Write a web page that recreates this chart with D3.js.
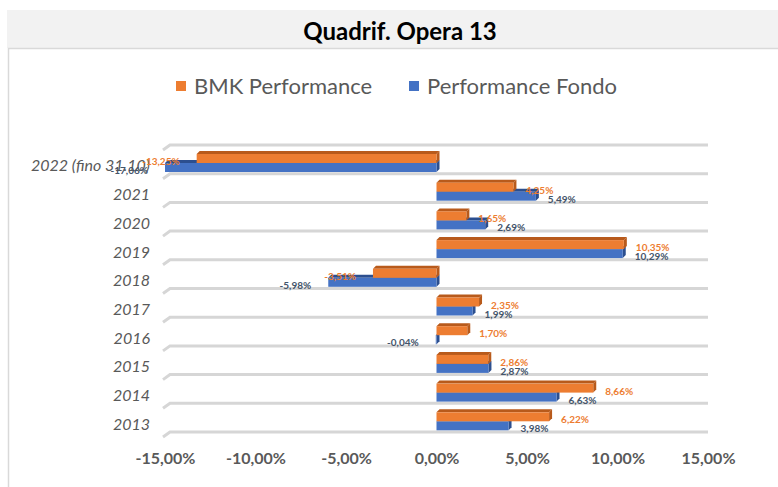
<!DOCTYPE html>
<html>
<head>
<meta charset="utf-8">
<script src="https://cdn.jsdelivr.net/npm/d3@7"></script>
<style>
  body { margin: 0; background: #fff; }
  svg { font-family: Lato, "Open Sans", sans-serif; }
</style>
</head>
<body>
<svg id="chart" width="778" height="487"></svg>
<script>
// dati
const years = ['2022 (fino 31.10)', '2021', '2020', '2019', '2018', '2017', '2016', '2015', '2014', '2013'];
const bmk = [-13.25, 4.25, 1.65, 10.35, -3.51, 2.35, 1.70, 2.86, 8.66, 6.22];
const fondo = [-17.06, 5.49, 2.69, 10.29, -5.98, 1.99, -0.04, 2.87, 6.63, 3.98];
const ticks = [-15, -10, -5, 0, 5, 10, 15];

const orange = '#ed7d31', orangeDark = '#b85a1b';
const blue = '#4472c4', blueDark = '#2c4f8f';
const grey = '#595959';

const it = d3.formatLocale({decimal: ',', thousands: '.', grouping: [3], currency: ['', '€'], minus: '-'});
const fmt = it.format('.2f');

const svg = d3.select('#chart');

// titolo e cornice
svg.append('rect').attr('x', 7).attr('y', 10).attr('width', 771).attr('height', 38).attr('fill', '#f2f2f2');
svg.append('text').attr('x', 400).attr('y', 40).attr('text-anchor', 'middle')
  .attr('font-size', 24).attr('font-weight', 'bold').attr('fill', '#000').text('Quadrif. Opera 13');
svg.append('path').attr('d', 'M8.5,487 V48.5 H778').attr('fill', 'none').attr('stroke', '#d9d9d9').attr('stroke-width', 1.5);

// legenda
const legend = [{name: 'BMK Performance', c: orange, x: 176}, {name: 'Performance Fondo', c: blue, x: 409}];
const lg = svg.selectAll('.leg').data(legend).enter().append('g').attr('class', 'leg')
  .attr('transform', d => `translate(${d.x},81)`);
lg.append('rect').attr('width', 10).attr('height', 10).attr('fill', d => d.c);
lg.append('text').attr('x', 18).attr('y', 13).attr('font-size', 22).attr('fill', grey).text(d => d.name);

const xScale = d3.scaleLinear().domain([-15, 15]).range([165, 708]);
const yScale = d3.scaleBand().domain(years).range([145, 432]);
const bw = yScale.bandwidth();

// griglia 3D (pavimento)
const lines = years.map(d => yScale(d)).concat([yScale.range()[1]]);
svg.selectAll('.grid').data(lines).enter().append('path').attr('class', 'grid')
  .attr('d', d => `M163,${d + 5} L170,${d} H708`)
  .attr('fill', 'none').attr('stroke', '#d6d6d6').attr('stroke-width', 3);

const dep = 3;
function bar3d(g, v, top, h, c, dark) {
  const a = xScale(Math.max(Math.min(v, 0), -15)), b = xScale(Math.max(v, 0));
  g.append('path').attr('d', `M${a},${top} L${a + dep},${top - dep} H${b + dep} L${b},${top} Z`).attr('fill', dark);
  g.append('path').attr('d', `M${b},${top} L${b + dep},${top - dep} V${top + h - dep} L${b},${top + h} Z`).attr('fill', dark);
  g.append('rect').attr('x', a).attr('y', top).attr('width', Math.max(b - a, 0.5)).attr('height', h).attr('fill', c);
}

const rows = years.map((y, i) => ({y, bmk: bmk[i], fondo: fondo[i]}));
const bh = 9;
svg.selectAll('.row').data(rows).enter().append('g').attr('class', 'row').each(function(d) {
  const g = d3.select(this);
  const t = yScale(d.y);
  bar3d(g, d.fondo, t + 9 + bh, bh, blue, blueDark);
  bar3d(g, d.bmk, t + 9, bh, orange, orangeDark);
});

// etichette dati
function lab(v, top, c) {
  const xs = v < 0 ? xScale(Math.max(v, -15)) - 17 : xScale(v) + 12;
  svg.append('text').attr('x', xs).attr('y', top + bh / 2 + 3).attr('dy', '0.35em')
    .attr('text-anchor', v < 0 ? 'end' : 'start')
    .attr('font-size', 10).attr('font-weight', 'bold').attr('fill', c)
    .text(fmt(v) + '%');
}

// asse categorie
const yAxis = svg.append('g').attr('transform', 'translate(150,0)')
  .call(d3.axisLeft(yScale).tickSize(0).tickPadding(0));
yAxis.select('.domain').remove();
yAxis.selectAll('text').attr('font-family', 'Lato, sans-serif').attr('font-size', 16)
  .attr('font-style', 'italic').attr('fill', grey).attr('dy', '0.32em').attr('y', 7);

rows.forEach(d => {
  const t = yScale(d.y);
  lab(d.bmk, t + 9, orange);
  lab(d.fondo, t + 9 + bh, '#44546a');
});

// asse valori
const xAxis = svg.append('g').attr('transform', 'translate(0,450)')
  .call(d3.axisBottom(xScale).tickValues(ticks).tickSize(0).tickPadding(3).tickFormat(d => fmt(d) + '%'));
xAxis.select('.domain').remove();
xAxis.selectAll('text').attr('font-family', 'Lato, sans-serif').attr('font-size', 16)
  .attr('font-weight', 'bold').attr('fill', grey);
</script>
</body>
</html>
